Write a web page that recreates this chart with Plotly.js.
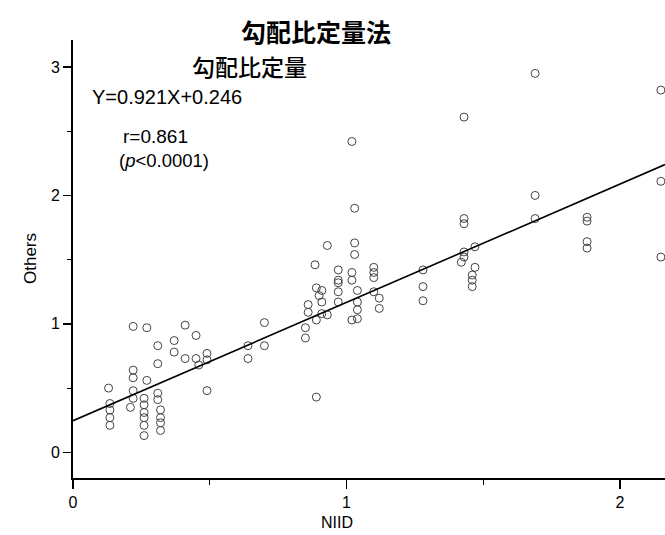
<!DOCTYPE html>
<html>
<head>
<meta charset="utf-8">
<script src="https://cdn.plot.ly/plotly-3.0.1.min.js"></script>
<style>
  html, body { margin: 0; padding: 0; background: #fff; }
  #chart { width: 665px; height: 535px; }
</style>
</head>
<body>
<div id="chart"></div>
<script>
// NIID values (x)
const niid = [
  0.13, 0.135, 0.135, 0.135, 0.135,
  0.22, 0.22, 0.22, 0.22, 0.22, 0.21,
  0.27, 0.27, 0.26, 0.26, 0.26, 0.26, 0.26, 0.26,
  0.31, 0.31, 0.31, 0.31, 0.32, 0.32, 0.32, 0.32,
  0.37, 0.37,
  0.41, 0.41,
  0.45, 0.45, 0.46,
  0.49, 0.49, 0.49,
  0.64, 0.64,
  0.70, 0.70,
  0.85, 0.85, 0.86, 0.86,
  0.885, 0.89, 0.89, 0.89, 0.90,
  0.93, 0.91, 0.91, 0.91, 0.93,
  0.97, 0.97, 0.97, 0.97, 0.97,
  1.02, 1.03, 1.03, 1.03, 1.02, 1.02, 1.04, 1.04, 1.04, 1.04, 1.02,
  1.10, 1.10, 1.10, 1.10, 1.12, 1.12,
  1.28, 1.28, 1.28,
  1.43, 1.43, 1.43, 1.43, 1.43, 1.42, 1.47, 1.47, 1.46, 1.46, 1.46,
  1.69, 1.69, 1.69,
  1.88, 1.88, 1.88, 1.88,
  2.15, 2.15, 2.15
];
// Others values (y)
const others = [
  0.50, 0.38, 0.33, 0.27, 0.21,
  0.98, 0.64, 0.58, 0.48, 0.42, 0.35,
  0.97, 0.56, 0.42, 0.37, 0.31, 0.27, 0.21, 0.13,
  0.83, 0.69, 0.46, 0.41, 0.33, 0.27, 0.23, 0.17,
  0.87, 0.78,
  0.99, 0.73,
  0.91, 0.73, 0.68,
  0.77, 0.72, 0.48,
  0.83, 0.73,
  1.01, 0.83,
  0.89, 0.97, 1.15, 1.09,
  1.46, 1.28, 1.03, 0.43, 1.22,
  1.61, 1.26, 1.17, 1.08, 1.07,
  1.42, 1.34, 1.32, 1.25, 1.17,
  2.42, 1.90, 1.63, 1.54, 1.40, 1.34, 1.26, 1.17, 1.11, 1.04, 1.03,
  1.44, 1.40, 1.36, 1.25, 1.20, 1.12,
  1.42, 1.29, 1.18,
  2.61, 1.82, 1.78, 1.56, 1.52, 1.48, 1.60, 1.44, 1.38, 1.34, 1.29,
  2.95, 2.00, 1.82,
  1.83, 1.80, 1.64, 1.59,
  2.82, 2.11, 1.52
];
// Regression fit
const slope = 0.921;
const intercept = 0.246;
const xRange = [0, 2.165];
const yRange = [-0.2, 3.21];
const xTicks = [0, 1, 2];
const yTicks = [0, 1, 2, 3];

const fitX = xRange.slice();
const fitY = fitX.map(v => slope * v + intercept);

const F = '"Liberation Sans", Arial, sans-serif';
const CJK = '"Noto Sans CJK JP", "Noto Sans CJK SC", sans-serif';

const traces = [
  {
    x: niid, y: others, type: 'scatter', mode: 'markers',
    marker: { symbol: 'circle-open', size: 8, color: '#444', line: { width: 1, color: '#444' } },
    hoverinfo: 'skip', showlegend: false, cliponaxis: false
  },
  {
    x: fitX, y: fitY, type: 'scatter', mode: 'lines',
    line: { color: '#000', width: 1.6 }, hoverinfo: 'skip', showlegend: false
  }
];

const layout = {
  width: 665, height: 535,
  margin: { l: 73, r: 0, t: 40, b: 57 },
  paper_bgcolor: '#fff', plot_bgcolor: '#fff',
  showlegend: false,
  title: {
    text: '勾配比定量法',
    font: { family: CJK, size: 25, color: '#000', weight: 600 },
    x: 316 / 665, xanchor: 'center', xref: 'container',
    y: 1 - 33 / 535, yanchor: 'middle', yref: 'container'
  },
  xaxis: {
    range: xRange, showgrid: false, zeroline: false,
    showline: true, linecolor: '#000', linewidth: 2,
    tickvals: xTicks, ticks: 'outside', ticklen: 9, tickwidth: 1.5, tickcolor: '#000',
    minor: { dtick: 0.5, tick0: 0, ticks: 'outside', ticklen: 5, tickwidth: 1, tickcolor: '#000' },
    tickfont: { family: F, size: 16, color: '#000' }
  },
  yaxis: {
    range: yRange, showgrid: false, zeroline: false,
    showline: true, linecolor: '#000', linewidth: 2,
    tickvals: yTicks, ticks: 'outside', ticklen: 8, tickwidth: 1.5, tickcolor: '#000',
    minor: { dtick: 0.5, tick0: 0, ticks: 'outside', ticklen: 4, tickwidth: 1, tickcolor: '#000' },
    tickfont: { family: F, size: 16, color: '#000' }
  },
  annotations: [
    { text: '勾配比定量', xref: 'x', yref: 'y', x: 0.647, y: 3.01, showarrow: false,
      xanchor: 'center', yanchor: 'middle', font: { family: CJK, size: 23, color: '#000', weight: 500 } },
    { text: 'Y=0.921X+0.246', xref: 'x', yref: 'y', x: 0.062, y: 2.77, showarrow: false,
      xanchor: 'left', yanchor: 'middle', font: { family: F, size: 20, color: '#000' } },
    { text: 'r=0.861', xref: 'x', yref: 'y', x: 0.175, y: 2.46, showarrow: false,
      xanchor: 'left', yanchor: 'middle', font: { family: F, size: 19, color: '#000' } },
    { text: '(<i>p</i><0.0001)', xref: 'x', yref: 'y', x: 0.16, y: 2.27, showarrow: false,
      xanchor: 'left', yanchor: 'middle', font: { family: F, size: 18.5, color: '#000' } },
    { text: 'NIID', xref: 'paper', yref: 'paper', x: (337 - 73) / 592, y: (478 - 522) / 438,
      showarrow: false, xanchor: 'center', yanchor: 'middle', font: { family: F, size: 16, color: '#000' } },
    { text: 'Others', xref: 'paper', yref: 'paper', x: (30 - 73) / 592, y: 0.5, textangle: -90,
      showarrow: false, xanchor: 'center', yanchor: 'middle', font: { family: F, size: 17, color: '#000' } }
  ]
};

Plotly.newPlot('chart', traces, layout, { staticPlot: true, displayModeBar: false });
</script>
</body>
</html>
